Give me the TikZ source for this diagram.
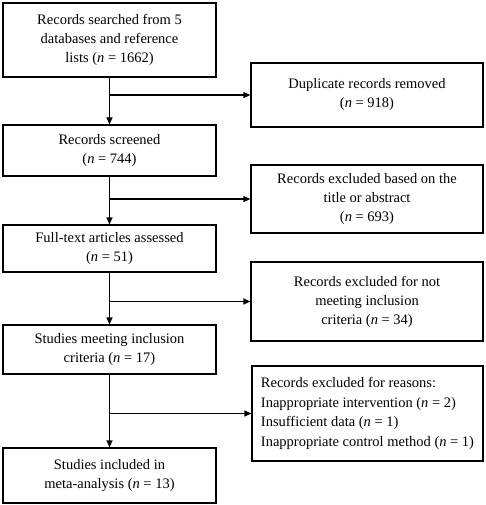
\documentclass[tikz,border=0pt]{standalone}
\usepackage{fontspec}
\setmainfont{Liberation Serif}
\usetikzlibrary{arrows.meta}
\begin{document}
\begin{tikzpicture}[x=1pt,y=-1pt,
  box/.style={draw,line width=1.2pt,inner sep=0pt,align=center,font=\fontsize{14.5}{19}\selectfont},
  lbox/.style={box,minimum width=213pt},
  rbox/.style={box,minimum width=232pt},
  flow/.style={line width=1.2pt,-{Triangle[length=7pt,width=6pt]}}]
\useasboundingbox (0,0) rectangle (485,505);
\node[lbox,minimum height=74pt] (l1) at (109.5,40) {Records searched from 5\\databases and reference\\lists (\textit{n} = 1662)};
\node[lbox,minimum height=51pt] (l2) at (109.5,150.5) {Records screened\\(\textit{n} = 744)};
\node[lbox,minimum height=47pt] (l3) at (109.5,248.5) {Full-text articles assessed\\(\textit{n} = 51)};
\node[lbox,minimum height=49pt] (l4) at (109.5,349.5) {Studies meeting inclusion\\criteria (\textit{n} = 17)};
\node[lbox,minimum height=55pt] (l5) at (109.5,475.5) {Studies included in\\meta-analysis (\textit{n} = 13)};
\node[rbox,minimum height=64pt] (r1) at (367,95) {Duplicate records removed\\(\textit{n} = 918)};
\node[rbox,minimum height=68pt] (r2) at (367,199) {Records excluded based on the\\title or abstract\\(\textit{n} = 693)};
\node[rbox,minimum height=79pt] (r3) at (367,301.5) {Records excluded for not\\meeting inclusion\\criteria (\textit{n} = 34)};
\node[rbox,minimum width=231pt,minimum height=95pt,align=left,font=\fontsize{14.5}{19.5}\selectfont] (r4) at (367.5,413.5) {Records excluded for reasons:\\Inappropriate intervention (\textit{n} = 2)\\Insufficient data (\textit{n} = 1)\\Inappropriate control method (\textit{n} = 1)};
\draw[flow] (l1) -- (l2);
\draw[flow] (l2) -- (l3);
\draw[flow] (l3) -- (l4);
\draw[flow] (l4) -- (l5);
\draw[flow] (l1.south |- r1.west) -- (r1.west);
\draw[flow] (l2.south |- r2.west) -- (r2.west);
\draw[flow] (l3.south |- r3.west) -- (r3.west);
\draw[flow] (l4.south |- r4.west) -- (r4.west);
\end{tikzpicture}
\end{document}
